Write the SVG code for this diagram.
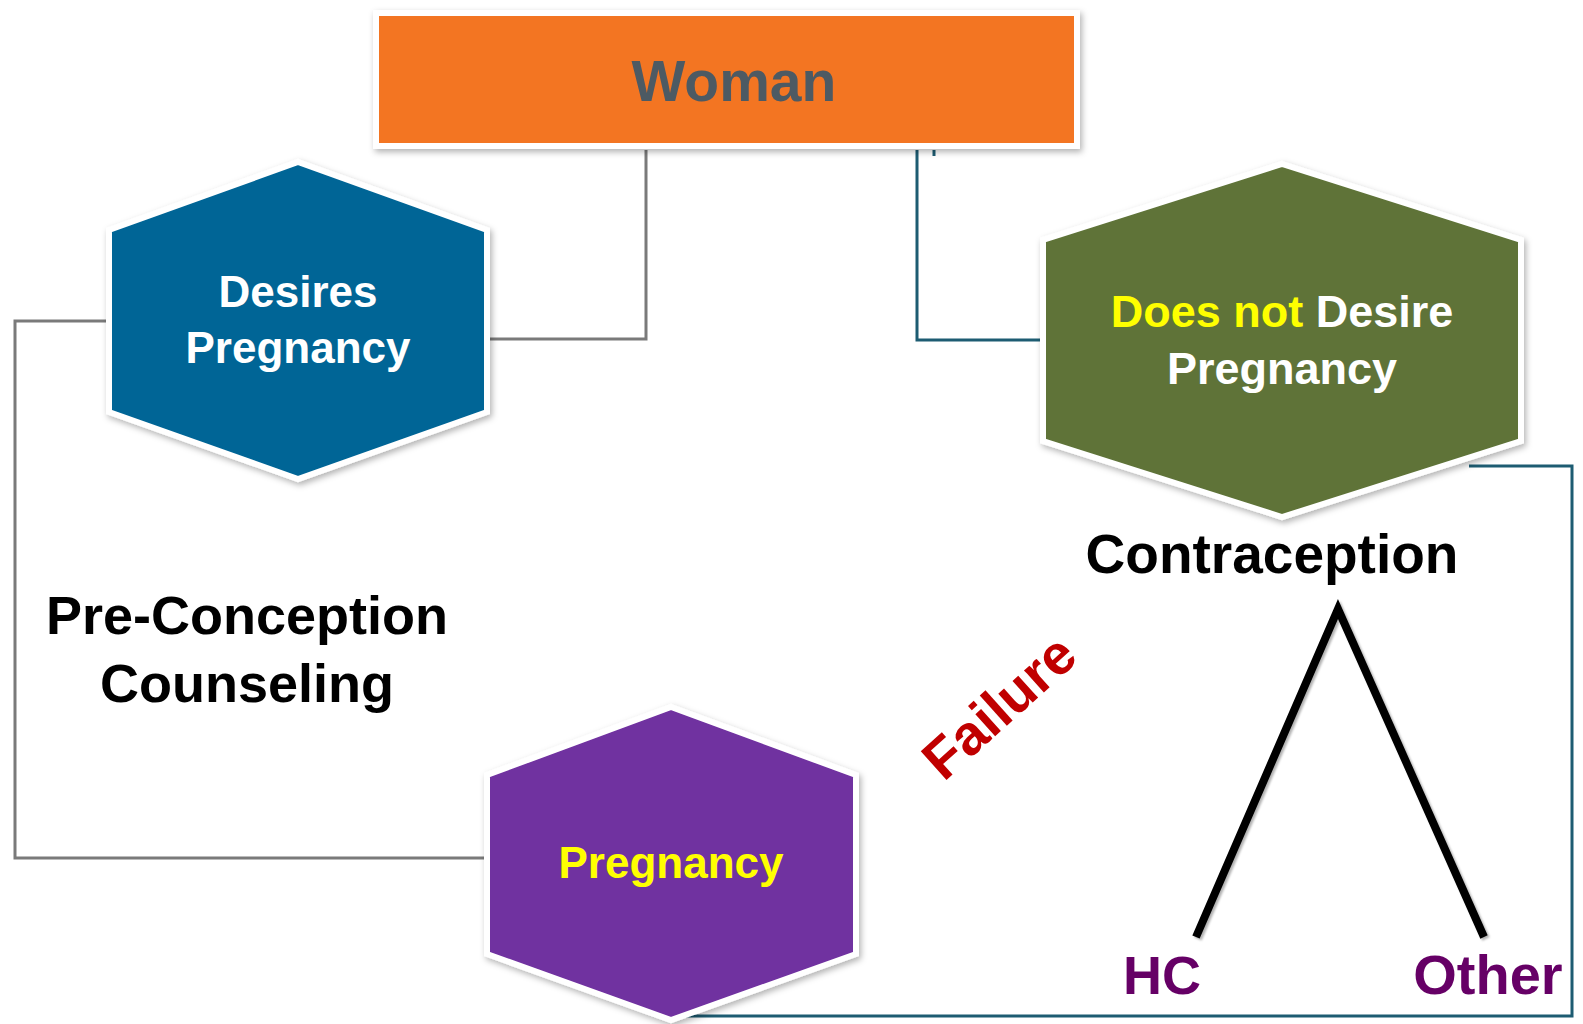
<svg xmlns="http://www.w3.org/2000/svg" width="1583" height="1024" viewBox="0 0 1583 1024">
<defs>
<filter id="sh" x="-10%" y="-10%" width="120%" height="120%">
<feDropShadow dx="2" dy="3" stdDeviation="3" flood-color="#000" flood-opacity="0.3"/>
</filter>
<filter id="ls" x="-10%" y="-10%" width="120%" height="120%">
<feDropShadow dx="2" dy="2" stdDeviation="1" flood-color="#000" flood-opacity="0.3"/>
</filter>
</defs>
<style>
text{font-family:"Liberation Sans",Arial,sans-serif;font-weight:bold;}
.hex{stroke:#fff;stroke-width:6;stroke-linejoin:miter;filter:url(#sh);}
.gray{fill:none;stroke:#7a7a7a;stroke-width:3;}
.teal{fill:none;stroke:#1d5c72;stroke-width:3;}
.w{fill:#fff;}
.y{fill:#ffff00;}
.blk{fill:#000;}
.pur{fill:#660066;}
</style>
<rect width="1583" height="1024" fill="#fff"/>
<g id="connectors">
<polyline class="gray" points="646,150 646,339 488,339"/>
<polyline class="teal" points="917,150 917,340 1043,340"/>
<line class="teal" x1="934" y1="150" x2="934" y2="156"/>
<polyline class="gray" points="109,321 15,321 15,858 487,858"/>
<polyline class="teal" points="1469,466 1572,466 1572,1016 686,1016"/>
</g>
<g id="woman">
<rect x="376" y="13" width="701" height="133" fill="#f37521" stroke="#fff" stroke-width="6" filter="url(#sh)"/>
<text x="734" y="101" font-size="57" fill="#4d5a63" text-anchor="middle">Woman</text>
</g>
<g id="desires">
<polygon class="hex" fill="#006596" points="298,162 487,230 487,412 298,479 109,412 109,230"/>
<text x="298" y="307" font-size="44" class="w" text-anchor="middle">Desires</text>
<text x="298" y="363" font-size="44" class="w" text-anchor="middle">Pregnancy</text>
</g>
<g id="notdesire">
<polygon class="hex" fill="#5e7338" points="1282,164 1521,240 1521,441 1282,517 1043,441 1043,240"/>
<text x="1282" y="327" font-size="45" text-anchor="middle"><tspan class="y">Does not</tspan><tspan class="w"> Desire</tspan></text>
<text x="1282" y="384" font-size="45" class="w" text-anchor="middle">Pregnancy</text>
</g>
<g id="pregnancy">
<polygon class="hex" fill="#7030a0" points="671,707 856,775 856,954 671,1020 487,954 487,775"/>
<text x="671" y="878" font-size="44" class="y" text-anchor="middle">Pregnancy</text>
</g>
<g id="contraception">
<text x="1272" y="573" font-size="55" class="blk" text-anchor="middle">Contraception</text>
<polyline points="1196,937 1338,609 1484,937" fill="none" stroke="#000" stroke-width="8" filter="url(#ls)"/>
<text x="1162" y="994" font-size="54" class="pur" text-anchor="middle">HC</text>
<text x="1488" y="994" font-size="56" class="pur" text-anchor="middle">Other</text>
</g>
<g id="preconception">
<text x="247" y="634" font-size="54" class="blk" text-anchor="middle">Pre-Conception</text>
<text x="247" y="702" font-size="54" class="blk" text-anchor="middle">Counseling</text>
</g>
<g id="failure">
<text x="1012" y="721" font-size="56" fill="#c00000" text-anchor="middle" transform="rotate(-42 1012 721)">Failure</text>
</g>
</svg>
